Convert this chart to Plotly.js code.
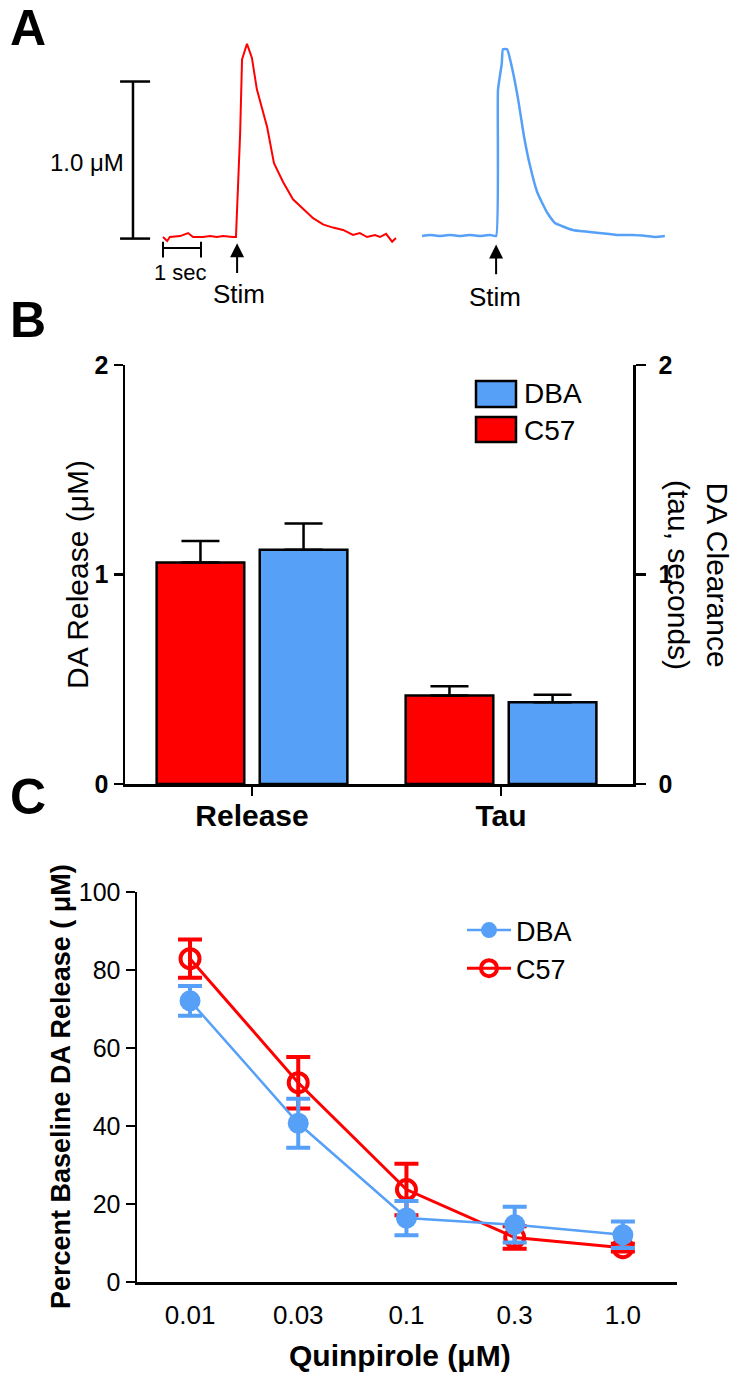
<!DOCTYPE html>
<html>
<head>
<meta charset="utf-8">
<script src="https://cdn.plot.ly/plotly-3.0.1.min.js"></script>
<style>
  html, body { margin: 0; padding: 0; background: #fff; }
  #chart { width: 746px; height: 1378px; }
</style>
</head>
<body>
<div id="chart"></div>
<script>
// ---------- Panel A: example traces (time in s, concentration in µM) ----------
const redTime = [0, 0.11, 0.18, 0.45, 0.66, 0.79, 1.05, 1.24, 1.42, 1.58, 1.84, 1.92, 2.03, 2.08, 2.21, 2.34, 2.47, 2.74, 2.92, 3.16, 3.42, 3.68, 3.95, 4.21, 4.47, 4.74, 5.0, 5.18, 5.37, 5.58, 5.71, 5.87, 6.03, 6.13];
const redConc = [0, -0.025, 0, 0.006, 0.025, 0, 0, 0.006, 0, 0.006, 0, 0, 0.66, 1.13, 1.23, 1.14, 0.94, 0.70, 0.47, 0.35, 0.24, 0.18, 0.12, 0.08, 0.06, 0.045, 0.013, 0.025, 0, 0.013, 0, 0.02, -0.03, -0.006];
const blueTime = [0, 0.21, 0.47, 0.74, 1.0, 1.26, 1.53, 1.79, 1.95, 2.0, 2.1, 2.13, 2.24, 2.37, 2.53, 2.68, 2.84, 3.03, 3.29, 3.5, 3.97, 4.68, 5.13, 5.55, 5.9, 6.13, 6.39];
const blueConc = [0, 0.006, 0, 0.006, 0, 0.006, 0, 0.006, 0, 0.93, 1.10, 1.19, 1.19, 1.07, 0.87, 0.64, 0.45, 0.28, 0.15, 0.083, 0.038, 0.019, 0.006, 0.006, 0, -0.006, 0];
const stimTime = 1.95;

// ---------- Panel B: release and tau ----------
const barCategories = ['Release', 'Tau'];
const c57Bars = [1.057, 0.423];
const c57BarErr = [0.103, 0.043];
const dbaBars = [1.118, 0.390];
const dbaBarErr = [0.125, 0.036];

// ---------- Panel C: quinpirole dose response ----------
const doses = ['0.01', '0.03', '0.1', '0.3', '1.0'];
const dbaPct = [72.1, 40.7, 16.4, 14.7, 12.1];
const dbaErr = [3.8, 6.3, 4.4, 4.6, 3.4];
const c57Pct = [82.9, 51.1, 23.7, 11.4, 8.8];
const c57Err = [4.9, 6.6, 6.6, 2.9, 1.0];

const RED = '#FF0000';
const BLUE = '#56A0F8';
const FONT = 'Arial, "Liberation Sans", sans-serif';
const W = 746, H = 1378;
const px = v => v / W;
const py = v => 1 - v / H;

const traces = [
  // Panel A
  { x: redTime, y: redConc, xaxis: 'x3', yaxis: 'y4', type: 'scatter', mode: 'lines',
    line: { color: RED, width: 2 }, showlegend: false, hoverinfo: 'skip' },
  { x: blueTime, y: blueConc, xaxis: 'x4', yaxis: 'y5', type: 'scatter', mode: 'lines',
    line: { color: BLUE, width: 2.5, shape: 'spline', smoothing: 0.4 }, showlegend: false, hoverinfo: 'skip' },
  // Panel B
  { x: barCategories, y: c57Bars, type: 'bar', name: 'C57', xaxis: 'x', yaxis: 'y',
    marker: { color: RED, line: { color: '#000', width: 2.5 } },
    error_y: { type: 'data', array: c57BarErr, arrayminus: [0, 0], symmetric: false, color: '#000', thickness: 2.5, width: 19 },
    showlegend: false, hoverinfo: 'skip' },
  { x: barCategories, y: dbaBars, type: 'bar', name: 'DBA', xaxis: 'x', yaxis: 'y',
    marker: { color: BLUE, line: { color: '#000', width: 2.5 } },
    error_y: { type: 'data', array: dbaBarErr, arrayminus: [0, 0], symmetric: false, color: '#000', thickness: 2.5, width: 19 },
    showlegend: false, hoverinfo: 'skip' },
  { x: barCategories, y: [null, null], type: 'scatter', mode: 'markers', xaxis: 'x', yaxis: 'y2',
    showlegend: false, hoverinfo: 'skip' },
  // Panel C
  { x: doses, y: c57Pct, type: 'scatter', mode: 'lines+markers', name: 'C57', xaxis: 'x2', yaxis: 'y3',
    line: { color: RED, width: 3 },
    marker: { symbol: 'circle-open', size: 19, color: RED, line: { width: 4, color: RED } },
    error_y: { type: 'data', array: c57Err, color: RED, thickness: 4, width: 12 }, cliponaxis: false },
  { x: doses, y: dbaPct, type: 'scatter', mode: 'lines+markers', name: 'DBA', xaxis: 'x2', yaxis: 'y3',
    line: { color: BLUE, width: 2.5 },
    marker: { symbol: 'circle', size: 21, color: BLUE },
    error_y: { type: 'data', array: dbaErr, color: BLUE, thickness: 4, width: 12 }, cliponaxis: false }
];

const hidden = { visible: false, showgrid: false, zeroline: false };
const axisLine = { showline: true, linecolor: '#000', linewidth: 2.5, showgrid: false, zeroline: false,
  ticks: 'outside', ticklen: 9, tickwidth: 2.5, tickcolor: '#000' };

const boldTick = { family: FONT, size: 25, color: '#000', weight: 'bold' };

function note(text, x, y, size, extra) {
  return Object.assign({ text: text, xref: 'paper', yref: 'paper', x: px(x), y: py(y),
    xanchor: 'center', yanchor: 'middle', showarrow: false, font: { size: size, family: FONT, color: '#000' } }, extra || {});
}

const layout = {
  width: W, height: H, autosize: false,
  margin: { l: 0, r: 0, t: 0, b: 0, pad: 0 },
  paper_bgcolor: '#fff', plot_bgcolor: 'rgba(0,0,0,0)',
  font: { family: FONT, color: '#000' },
  barmode: 'group', bargap: 0.172, bargroupgap: 0.15,
  // Panel A axes
  xaxis3: Object.assign({}, hidden, { domain: [px(100), px(400)], range: [-1.658, 6.237], anchor: 'y4' }),
  yaxis4: Object.assign({}, hidden, { domain: [py(300), py(30)], range: [-0.401, 1.318], anchor: 'x3' }),
  xaxis4: Object.assign({}, hidden, { domain: [px(410), px(690)], range: [-0.316, 7.053], anchor: 'y5' }),
  yaxis5: Object.assign({}, hidden, { domain: [py(300), py(30)], range: [-0.408, 1.312], anchor: 'x4' }),
  // Panel B axes
  xaxis: Object.assign({}, axisLine, { domain: [px(125), px(633)], range: [-0.51, 1.53], type: 'category', anchor: 'y',
    tickfont: { family: FONT, size: 30, color: '#000', weight: 'bold' }, ticklabelstandoff: -6 }),
  yaxis: Object.assign({}, axisLine, { domain: [py(784), py(365)], range: [0, 2], tickvals: [0, 1, 2], anchor: 'x',
    tickfont: boldTick }),
  yaxis2: Object.assign({}, axisLine, { overlaying: 'y', side: 'right', anchor: 'x', range: [0, 2], tickvals: [0, 1, 2],
    ticklen: 10, tickfont: boldTick, ticklabelstandoff: 8 }),
  // Panel C axes
  xaxis2: Object.assign({}, axisLine, { domain: [px(137), px(677)], range: [-0.49, 4.5], type: 'category', anchor: 'y3',
    ticks: '', ticklen: 0, tickfont: { family: FONT, size: 26, color: '#000' }, ticklabelstandoff: 8 }),
  yaxis3: Object.assign({}, axisLine, { domain: [py(1282), py(892)], range: [0, 100], dtick: 20, anchor: 'x2',
    tickfont: { family: FONT, size: 25, color: '#000' } }),
  showlegend: true,
  legend: { x: px(462), y: py(906), xanchor: 'left', yanchor: 'top', traceorder: 'reversed',
    font: { family: FONT, size: 27, color: '#000' }, bgcolor: 'rgba(0,0,0,0)', itemwidth: 44, tracegroupgap: 0 },
  shapes: [
    // Panel A scale bars (1.0 µM, 1 s)
    { type: 'line', xref: 'x3', yref: 'y4', x0: -0.79, x1: -0.79, y0: -0.01, y1: 0.99, line: { color: '#000', width: 2.5 } },
    { type: 'line', xref: 'x3', yref: 'y4', x0: -1.13, x1: -0.34, y0: 0.99, y1: 0.99, line: { color: '#000', width: 2.5 } },
    { type: 'line', xref: 'x3', yref: 'y4', x0: -1.13, x1: -0.34, y0: -0.01, y1: -0.01, line: { color: '#000', width: 2.5 } },
    { type: 'line', xref: 'x3', yref: 'y4', x0: 0, x1: 1, y0: -0.07, y1: -0.07, line: { color: '#000', width: 2 } },
    { type: 'line', xref: 'x3', yref: 'y4', x0: 0, x1: 0, y0: -0.03, y1: -0.13, line: { color: '#000', width: 2 } },
    { type: 'line', xref: 'x3', yref: 'y4', x0: 1, x1: 1, y0: -0.03, y1: -0.13, line: { color: '#000', width: 2 } },
    // Panel B legend boxes
    { type: 'rect', xref: 'paper', yref: 'paper', x0: px(476), x1: px(516), y0: py(407), y1: py(381),
      fillcolor: BLUE, line: { color: '#000', width: 2.5 } },
    { type: 'rect', xref: 'paper', yref: 'paper', x0: px(476), x1: px(516), y0: py(442), y1: py(417),
      fillcolor: RED, line: { color: '#000', width: 2.5 } }
  ],
  annotations: [
    // Panel letters
    note('<b>A</b>', 28, 28, 50),
    note('<b>B</b>', 28, 320, 50),
    note('<b>C</b>', 28, 797, 50),
    // Panel A labels
    note('1.0 μM', 126, 163, 24, { xanchor: 'right' }),
    { text: '1 sec', xref: 'x3', yref: 'y4', x: 0.45, y: -0.225, xanchor: 'center', yanchor: 'middle', showarrow: false,
      font: { size: 22, family: FONT, color: '#000' } },
    { text: ' ', xref: 'x3', yref: 'y4', x: stimTime, y: -0.04, axref: 'x3', ayref: 'y4', ax: stimTime, ay: -0.245,
      showarrow: true, arrowhead: 2, arrowsize: 1.4, arrowwidth: 2, arrowcolor: '#000', font: { size: 2 } },
    { text: 'Stim', xref: 'x3', yref: 'y4', x: 2.0, y: -0.36, xanchor: 'center', yanchor: 'middle', showarrow: false,
      font: { size: 26, family: FONT, color: '#000' } },
    { text: ' ', xref: 'x4', yref: 'y5', x: stimTime, y: -0.055, axref: 'x4', ayref: 'y5', ax: stimTime, ay: -0.26,
      showarrow: true, arrowhead: 2, arrowsize: 1.4, arrowwidth: 2, arrowcolor: '#000', font: { size: 2 } },
    { text: 'Stim', xref: 'x4', yref: 'y5', x: 1.92, y: -0.39, xanchor: 'center', yanchor: 'middle', showarrow: false,
      font: { size: 26, family: FONT, color: '#000' } },
    // Panel B titles and legend text
    note('DA Release (μM)', 77, 575, 30, { textangle: -90 }),
    note('DA Clearance<br>(tau, seconds)', 698, 575, 30, { textangle: 90 }),
    note('DBA', 522, 394, 28, { xanchor: 'left' }),
    note('C57', 522, 430, 28, { xanchor: 'left' }),
    // Panel C titles
    note('<b>Percent Baseline DA Release ( μM)</b>', 61, 1087, 27, { textangle: -90 }),
    note('<b>Quinpirole (μM)</b>', 400, 1355, 30)
  ]
};

Plotly.newPlot('chart', traces, layout, { staticPlot: true, displayModeBar: false });
</script>
</body>
</html>
